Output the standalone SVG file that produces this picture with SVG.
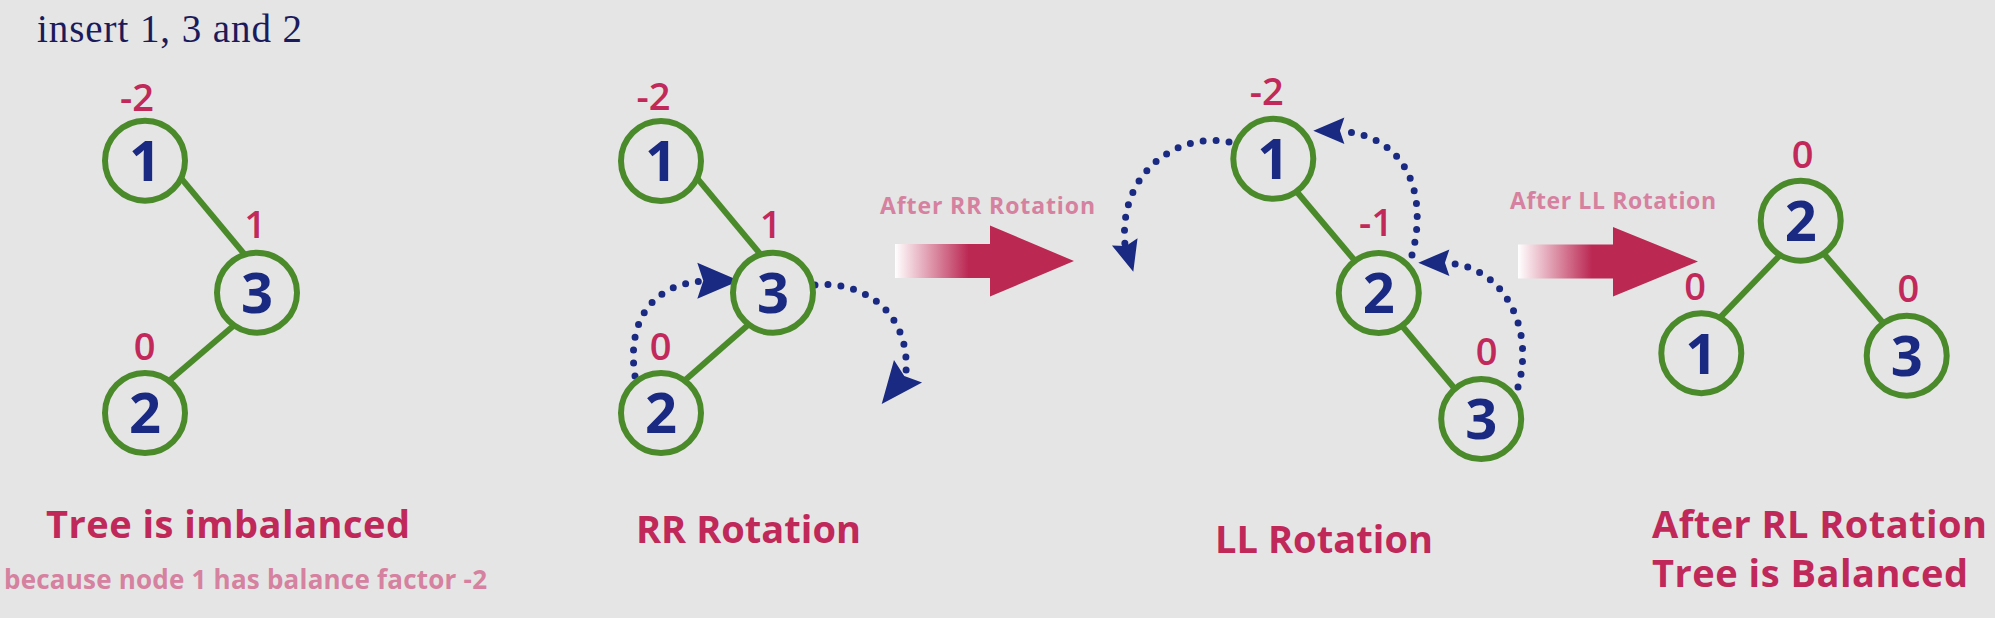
<svg xmlns="http://www.w3.org/2000/svg" xmlns:xlink="http://www.w3.org/1999/xlink" width="1995" height="618" viewBox="0 0 1995 618">
<style>
.bg{fill:#e5e5e5}
.node circle{fill:#e5e5e5;stroke:#4b8a2a;stroke-width:6}
.node text{font-family:"Open Sans","Noto Sans",sans-serif;font-weight:700;font-size:56px;fill:#1a2a82;text-anchor:middle}
.bf{font-family:"Open Sans","Noto Sans",sans-serif;font-weight:600;font-size:38px;fill:#c2295b;text-anchor:middle}
.edge{stroke:#4b8a2a;stroke-width:6;fill:none}
.dots{stroke:#1a2a82;stroke-width:7;stroke-linecap:round;stroke-dasharray:0 13;fill:none}
.ah{fill:#1a2a82}
.title{font-family:"Open Sans","Noto Sans",sans-serif;font-weight:700;font-size:38px;fill:#c0285a}
.sub{font-family:"Open Sans","Noto Sans",sans-serif;font-weight:700;font-size:23px;fill:#d5819f}
.sub.big{font-size:26px}
</style>
<defs>
<path id="ah" d="M0,0 L-42,-18 L-36,0 L-42,18 Z"/>
<linearGradient id="grad" x1="0" y1="0" x2="1" y2="0">
<stop offset="0" stop-color="#ffffff"/>
<stop offset="0.41" stop-color="#bb2953"/>
<stop offset="1" stop-color="#bb2953"/>
</linearGradient>
</defs>
<rect class="bg" x="0" y="0" width="1995" height="618"/>
<text x="37" y="42" font-family="'Liberation Serif',serif" font-size="39" fill="#1b1b5c" textLength="265">insert 1, 3 and 2</text>

<g id="connectors">
<line class="edge" x1="180.4" y1="177.4" x2="245.6" y2="255.6"/>
<line class="edge" x1="232.7" y1="326.5" x2="168.9" y2="381"/>
<line class="edge" x1="696.4" y1="177.4" x2="761.6" y2="255.6"/>
<line class="edge" x1="749.7" y1="323.5" x2="683" y2="382"/>
<line class="edge" x1="1296.8" y1="191.8" x2="1355.8" y2="261.8"/>
<line class="edge" x1="1401.5" y1="325.3" x2="1454.2" y2="388"/>
<line class="edge" x1="1779.9" y1="255.3" x2="1719.5" y2="318.2"/>
<line class="edge" x1="1823.4" y1="253.2" x2="1884.3" y2="324.2"/>
<path class="dots" d="M635,376 C626,318 655,284 703,281"/>
<use href="#ah" class="ah" transform="translate(739.3,280.7)"/>
<path class="dots" d="M815,285 C860,280 910,310 906,372"/>
<use href="#ah" class="ah" transform="translate(881.7,404) rotate(128.8)"/>
<path class="dots" d="M1229,142 C1180,132 1118,170 1125,245"/>
<use href="#ah" class="ah" transform="translate(1133.3,271.7) rotate(74) scale(0.74)"/>
<path class="dots" d="M1412,255 C1428,195 1408,136 1340,131"/>
<use href="#ah" class="ah" transform="translate(1313.3,130.7) rotate(180) scale(0.74)"/>
<path class="dots" d="M1518,387 C1535,330 1505,265 1445,263"/>
<use href="#ah" class="ah" transform="translate(1418.3,262.7) rotate(180) scale(0.74)"/>
<path d="M895,244 H990 V225.5 L1074,261 L990,296.5 V278 H895 Z" fill="url(#grad)"/>
<path d="M1518,244.5 H1613 V227 L1698,261.5 L1613,296.5 V278.5 H1518 Z" fill="url(#grad)"/>
</g>

<g id="t1-n1" class="node"><circle cx="145" cy="160.7" r="40"/><text x="145" y="181">1</text></g>
<g id="t1-n3" class="node"><circle cx="257" cy="292.7" r="40"/><text x="257" y="313">3</text></g>
<g id="t1-n2" class="node"><circle cx="145" cy="413" r="40"/><text x="145" y="433">2</text></g>
<text class="bf" x="137" y="110.7">-2</text>
<text class="bf" x="255" y="238.3">1</text>
<text class="bf" x="144.5" y="359.5">0</text>

<g id="t2-n1" class="node"><circle cx="661" cy="161" r="40"/><text x="661" y="181">1</text></g>
<g id="t2-n3" class="node"><circle cx="773" cy="292.7" r="40"/><text x="773" y="313">3</text></g>
<g id="t2-n2" class="node"><circle cx="661" cy="413" r="40"/><text x="661" y="433">2</text></g>
<text class="bf" x="653.5" y="110">-2</text>
<text class="bf" x="770.7" y="237.7">1</text>
<text class="bf" x="660.5" y="359.5">0</text>

<g id="t3-n1" class="node"><circle cx="1273.3" cy="158.8" r="40"/><text x="1273.3" y="179">1</text></g>
<g id="t3-n2" class="node"><circle cx="1378.8" cy="293" r="40"/><text x="1378.8" y="313">2</text></g>
<g id="t3-n3" class="node"><circle cx="1481.2" cy="419" r="40"/><text x="1481.2" y="439">3</text></g>
<text class="bf" x="1266.7" y="104.5">-2</text>
<text class="bf" x="1376" y="235.7">-1</text>
<text class="bf" x="1486.7" y="364.6">0</text>

<g id="t4-n2" class="node"><circle cx="1800.7" cy="220.7" r="40"/><text x="1800.7" y="241">2</text></g>
<g id="t4-n1" class="node"><circle cx="1701.3" cy="353.2" r="40"/><text x="1701.3" y="373.5">1</text></g>
<g id="t4-n3" class="node"><circle cx="1906.7" cy="355.7" r="40"/><text x="1906.7" y="376">3</text></g>
<text class="bf" x="1802.7" y="167.5">0</text>
<text class="bf" x="1695" y="299.6">0</text>
<text class="bf" x="1908.3" y="301.5">0</text>

<text class="title" x="46" y="538" textLength="364">Tree is imbalanced</text>
<text class="sub big" x="4" y="588.5" textLength="483">because node 1 has balance factor -2</text>
<text class="title" x="636" y="543" textLength="225">RR Rotation</text>
<text class="sub" x="880" y="213.5" textLength="215">After RR Rotation</text>
<text class="title" x="1215" y="552.6" textLength="218">LL Rotation</text>
<text class="sub" x="1510" y="209" textLength="206">After LL Rotation</text>
<text class="title" x="1652" y="538" textLength="335">After RL Rotation</text>
<text class="title" x="1652" y="587.3" textLength="316">Tree is Balanced</text>
</svg>
